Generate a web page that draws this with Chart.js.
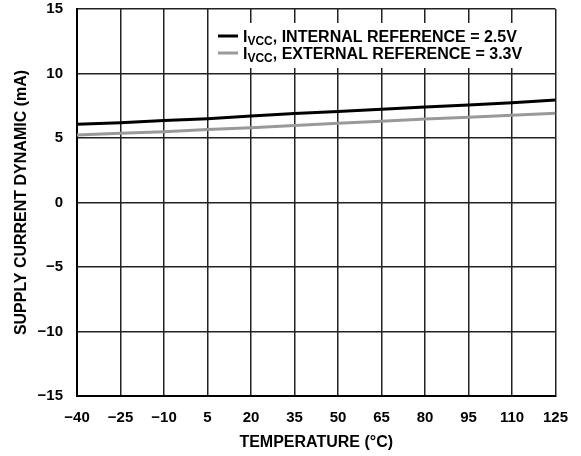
<!DOCTYPE html>
<html>
<head>
<meta charset="utf-8">
<script src="https://cdn.jsdelivr.net/npm/chart.js@4"></script>
<style>
  html, body { margin: 0; padding: 0; background: #fff; }
  #wrap { width: 581px; height: 456px; }
</style>
</head>
<body>
<div id="wrap"><canvas id="myChart" width="581" height="456"></canvas></div>
<script>
// temperature points (°C)
var temps = [-40, -25, -10, 5, 20, 35, 50, 65, 80, 95, 110, 125];
// supply current (mA)
var internalRef = [6.06, 6.19, 6.35, 6.5, 6.7, 6.9, 7.05, 7.22, 7.4, 7.56, 7.74, 7.95];
var externalRef = [5.23, 5.36, 5.49, 5.65, 5.8, 5.96, 6.14, 6.3, 6.47, 6.6, 6.76, 6.92];
var xTicks = [-40, -25, -10, 5, 20, 35, 50, 65, 80, 95, 110, 125];
var yTicks = [-15, -10, -5, 0, 5, 10, 15];
var seriesNames = ["INTERNAL REFERENCE = 2.5V", "EXTERNAL REFERENCE = 3.3V"];
var seriesColors = ["#000000", "#999999"];

var FONT = "'Liberation Sans', Arial, sans-serif";

function toPoints(ys) {
  var pts = [];
  for (var i = 0; i < temps.length; i++) {
    pts.push({ x: temps[i], y: ys[i] });
  }
  return pts;
}

function minus(v) {
  return String(v).replace("-", "\u2212");
}

// legend box with subscripted I_VCC, drawn straight onto the canvas
var vccLegend = {
  id: "vccLegend",
  afterDatasetsDraw: function (chart) {
    var ctx = chart.ctx;
    ctx.save();
    ctx.fillStyle = "#fff";
    ctx.fillRect(213, 23, 327, 45);
    var rows = [36, 53];
    for (var i = 0; i < rows.length; i++) {
      var y = rows[i];
      ctx.strokeStyle = seriesColors[i];
      ctx.lineWidth = 3;
      ctx.beginPath();
      ctx.moveTo(218, y);
      ctx.lineTo(238, y);
      ctx.stroke();

      ctx.fillStyle = "#000";
      ctx.textBaseline = "alphabetic";
      ctx.font = "bold 16px " + FONT;
      var x = 243;
      ctx.fillText("I", x, y + 6);
      x += ctx.measureText("I").width;
      ctx.font = "bold 12px " + FONT;
      ctx.fillText("VCC", x, y + 9);
      x += ctx.measureText("VCC").width;
      ctx.font = "bold 16px " + FONT;
      ctx.fillText(", " + seriesNames[i], x, y + 6);
    }
    ctx.restore();
  }
};

new Chart("myChart", {
  type: "scatter",
  data: {
    datasets: [
      {
        data: toPoints(internalRef),
        showLine: true,
        borderColor: seriesColors[0],
        borderWidth: 3,
        pointRadius: 0,
      },
      {
        data: toPoints(externalRef),
        showLine: true,
        borderColor: seriesColors[1],
        borderWidth: 3,
        pointRadius: 0,
      },
    ],
  },
  options: {
    responsive: false,
    animation: false,
    layout: { padding: { top: 2, right: 23, left: 8, bottom: 0 } },
    plugins: {
      legend: { display: false },
      tooltip: { enabled: false },
    },
    scales: {
      x: {
        type: "linear",
        min: -40,
        max: 125,
        afterBuildTicks: function (axis) {
          axis.ticks = xTicks.map(function (v) { return { value: v }; });
        },
        afterFit: function (axis) { axis.height = 60; },
        grid: { color: "#222", lineWidth: 1.5, drawTicks: false },
        border: { color: "#000", width: 2 },
        ticks: {
          color: "#000",
          padding: 13,
          maxRotation: 0,
          autoSkip: false,
          font: { family: FONT, size: 15, weight: "bold" },
          callback: function (v) { return minus(v); },
        },
        title: {
          display: true,
          text: "TEMPERATURE (\u00B0C)",
          color: "#000",
          padding: { top: 5 },
          font: { family: FONT, size: 16, weight: "bold" },
        },
      },
      y: {
        min: -15,
        max: 15,
        afterBuildTicks: function (axis) {
          axis.ticks = yTicks.map(function (v) { return { value: v }; });
        },
        afterFit: function (axis) {
          axis.width = 69;
          // keep only half a label of room above the top tick
          axis.paddingTop = 9;
        },
        grid: { color: "#222", lineWidth: 1.5, drawTicks: false },
        border: { color: "#000", width: 2 },
        ticks: {
          color: "#000",
          padding: 14,
          font: { family: FONT, size: 15, weight: "bold" },
          callback: function (v) { return minus(v); },
        },
        title: {
          display: true,
          text: "SUPPLY CURRENT DYNAMIC (mA)",
          color: "#000",
          padding: { top: 4, bottom: 0 },
          font: { family: FONT, size: 16, weight: "bold" },
        },
      },
    },
  },
  plugins: [vccLegend],
});
</script>
</body>
</html>
